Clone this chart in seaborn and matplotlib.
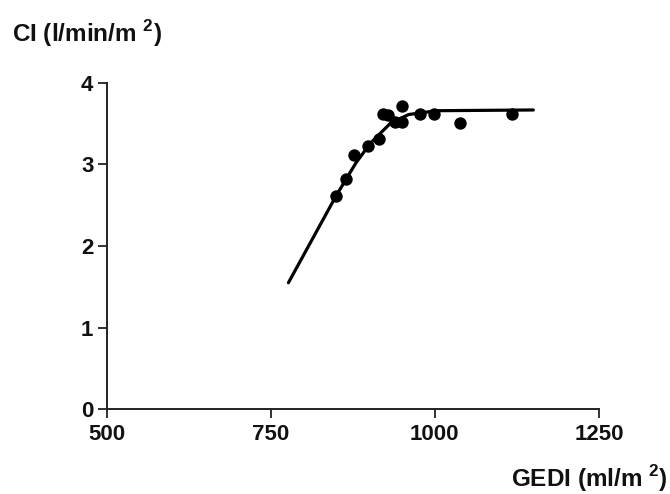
import matplotlib
matplotlib.use("Agg")
import matplotlib.pyplot as plt
import seaborn as sns
import pandas as pd

# Data
gedi = [850, 865, 877, 898, 915, 921, 928, 940, 950, 950, 977, 998, 1038, 1118]
ci = [2.61, 2.82, 3.11, 3.22, 3.31, 3.62, 3.60, 3.52, 3.52, 3.72, 3.62, 3.62, 3.51, 3.62]

fit_x = [777, 850, 880, 902, 932, 960, 1003, 1150]
fit_y = [1.55, 2.62, 3.02, 3.26, 3.50, 3.61, 3.657, 3.666]

x_ticks = [500, 750, 1000, 1250]
y_ticks = [0, 1, 2, 3, 4]

sns.set_theme(style="ticks")
plt.rcParams['font.family'] = ['Liberation Sans', 'DejaVu Sans']
plt.rcParams['mathtext.fontset'] = 'custom'
plt.rcParams['mathtext.rm'] = 'Liberation Sans:bold'
plt.rcParams['mathtext.bf'] = 'Liberation Sans:bold'

fig = plt.figure(figsize=(6.7, 4.94), dpi=100)
ax = fig.add_axes([0.159, 0.1714, 0.735, 0.6612])

df = pd.DataFrame({"GEDI": gedi, "CI": ci})
fit = pd.DataFrame({"x": fit_x, "y": fit_y})

sns.lineplot(data=fit, x="x", y="y", ax=ax, color="black", lw=2.3, sort=False)
sns.scatterplot(data=df, x="GEDI", y="CI", ax=ax, color="black", s=80,
                edgecolor="black", linewidth=0, zorder=3)

ax.set_xlim(500, 1250)
ax.set_ylim(0, 4)
ax.set_xticks(x_ticks)
ax.set_yticks(y_ticks)
ax.set_xticklabels([str(v) for v in x_ticks], fontweight='bold', fontsize=16)
ax.set_yticklabels([str(v) for v in y_ticks], fontweight='bold', fontsize=16)
ax.set_xlabel("")
ax.set_ylabel("")
for side in ["top", "right"]:
    ax.spines[side].set_visible(False)
for side in ["left", "bottom"]:
    ax.spines[side].set_linewidth(1.4)
    ax.spines[side].set_color("#222222")
ax.tick_params(axis='both', direction='out', length=6.5, width=1.3, color="#222222",
               labelcolor="#111111")
ax.tick_params(axis='x', pad=4)
ax.tick_params(axis='y', pad=3)
ax.set_facecolor("white")

fig.text(0.018, 0.915, r"CI (l/min/m $^{2}$)", fontsize=17.5, fontweight='bold',
         ha='left', va='baseline', color="#111111")
fig.text(0.996, 0.014, r"GEDI (ml/m $^{2}$)", fontsize=17.5, fontweight='bold',
         ha='right', va='baseline', color="#111111")

fig.savefig("out.png", dpi=100, facecolor="white")
